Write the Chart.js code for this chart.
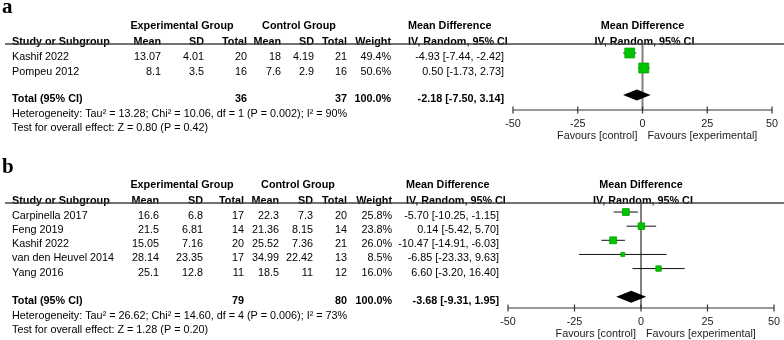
<!DOCTYPE html>
<html>
<head>
<meta charset="utf-8">
<script src="https://cdn.jsdelivr.net/npm/chart.js@4.4.0/dist/chart.umd.min.js"></script>
<style>
  html, body { margin: 0; padding: 0; background: #fff; }
  .panel { position: absolute; left: 0; width: 784px; }
</style>
</head>
<body>
<div class="panel" style="top:0"><canvas id="chart-a" width="784" height="150"></canvas></div>
<div class="panel" style="top:150px"><canvas id="chart-b" width="784" height="190"></canvas></div>
<script>
/* Forest plots a and b */
const TICKS = [-50, -25, 0, 25, 50];

// panel a
const STUDIES_A = ["Kashif 2022", "Pompeu 2012"];
const EXP_MEAN_A = [13.07, 8.1];
const EXP_SD_A = [4.01, 3.5];
const EXP_N_A = [20, 16];
const CTL_MEAN_A = [18, 7.6];
const CTL_SD_A = [4.19, 2.9];
const CTL_N_A = [21, 16];
const WEIGHT_A = [49.4, 50.6];
const MD_A = [-4.93, 0.5];
const LO_A = [-7.44, -1.73];
const HI_A = [-2.42, 2.73];
const TOTAL_N_A = [36, 37];
const POOLED_A = [-2.18, -7.5, 3.14];
const HET_A = "Heterogeneity: Tau² = 13.28; Chi² = 10.06, df = 1 (P = 0.002); I² = 90%";
const Z_A = "Test for overall effect: Z = 0.80 (P = 0.42)";

// panel b
const STUDIES_B = ["Carpinella 2017", "Feng 2019", "Kashif 2022", "van den Heuvel 2014", "Yang 2016"];
const EXP_MEAN_B = [16.6, 21.5, 15.05, 28.14, 25.1];
const EXP_SD_B = [6.8, 6.81, 7.16, 23.35, 12.8];
const EXP_N_B = [17, 14, 20, 17, 11];
const CTL_MEAN_B = [22.3, 21.36, 25.52, 34.99, 18.5];
const CTL_SD_B = [7.3, 8.15, 7.36, 22.42, 11];
const CTL_N_B = [20, 14, 21, 13, 12];
const WEIGHT_B = [25.8, 23.8, 26.0, 8.5, 16.0];
const MD_B = [-5.7, 0.14, -10.47, -6.85, 6.6];
const LO_B = [-10.25, -5.42, -14.91, -23.33, -3.2];
const HI_B = [-1.15, 5.7, -6.03, 9.63, 16.4];
const TOTAL_N_B = [79, 80];
const POOLED_B = [-3.68, -9.31, 1.95];
const HET_B = "Heterogeneity: Tau² = 26.62; Chi² = 14.60, df = 4 (P = 0.006); I² = 73%";
const Z_B = "Test for overall effect: Z = 1.28 (P = 0.20)";

const FONT = "'Liberation Sans', Arial, sans-serif";
const FS = 10.8;

const fmt2 = (v) => v.toFixed(2);
const ciText = (e, l, h) => `${fmt2(e)} [${fmt2(l)}, ${fmt2(h)}]`;

function makePanel(canvasId, p, g) {
  const n = p.studies.length;
  const ciSets = p.studies.map((_, i) => ({
    type: "line",
    data: [{ x: p.lo[i], y: i }, { x: p.hi[i], y: i }],
    borderColor: "#111",
    borderWidth: 1,
    pointRadius: 0,
    order: 1,
  }));

  const forestPlugin = {
    id: "forest-" + canvasId,
    afterDatasetsDraw(chart) {
      const ctx = chart.ctx;
      const xs = chart.scales.x;
      const yc = chart.scales.y.getPixelForValue(g.totalRow);
      ctx.save();
      ctx.fillStyle = "#000";
      ctx.beginPath();
      ctx.moveTo(xs.getPixelForValue(p.pooled[1]), yc);
      ctx.lineTo(xs.getPixelForValue(p.pooled[0]), yc - g.diamondH);
      ctx.lineTo(xs.getPixelForValue(p.pooled[2]), yc);
      ctx.lineTo(xs.getPixelForValue(p.pooled[0]), yc + g.diamondH);
      ctx.closePath();
      ctx.fill();
      ctx.restore();
    },
    afterDraw(chart) {
      const ctx = chart.ctx;
      const area = chart.chartArea;
      const xs = chart.scales.x;
      const ys = chart.scales.y;
      const c = g.cols;

      const put = (txt, x, y, align, bold) => {
        ctx.font = `${bold ? "bold " : ""}${FS}px ${FONT}`;
        ctx.textAlign = align;
        ctx.fillText(txt, x, y);
      };

      ctx.save();
      ctx.fillStyle = "#000";
      ctx.textBaseline = "alphabetic";

      // panel letter
      ctx.font = "bold 21px 'Liberation Serif', 'Times New Roman', serif";
      ctx.textAlign = "left";
      ctx.fillText(p.letter, 2, g.letterY);

      // header rows
      const h1 = area.top - 15;
      const h2 = area.top + 1;
      put("Experimental Group", c.expHead, h1, "center", true);
      put("Control Group", c.ctlHead, h1, "center", true);
      put("Mean Difference", c.mdHead, h1, "left", true);
      put("Mean Difference", (area.left + area.right) / 2, h1, "center", true);
      put("Study or Subgroup", 12, h2, "left", true);
      put("Mean", c.expMean, h2, "right", true);
      put("SD", c.expSD, h2, "right", true);
      put("Total", c.expN, h2, "right", true);
      put("Mean", c.ctlMean, h2, "right", true);
      put("SD", c.ctlSD, h2, "right", true);
      put("Total", c.ctlN, h2, "right", true);
      put("Weight", c.weight, h2, "right", true);
      put("IV, Random, 95% CI", c.mdHead, h2, "left", true);
      put("IV, Random, 95% CI", (area.left + area.right) / 2 + 2, h2, "center", true);

      // header rule
      ctx.strokeStyle = "#444";
      ctx.lineWidth = 1.3;
      ctx.beginPath();
      ctx.moveTo(5, area.top);
      ctx.lineTo(784, area.top);
      ctx.stroke();

      // study rows
      p.studies.forEach((name, i) => {
        const y = ys.getPixelForValue(i) + 7;
        put(name, 12, y, "left", false);
        put(String(p.expMean[i]), c.expMean, y, "right", false);
        put(String(p.expSD[i]), c.expSD, y, "right", false);
        put(String(p.expN[i]), c.expN, y, "right", false);
        put(String(p.ctlMean[i]), c.ctlMean, y, "right", false);
        put(String(p.ctlSD[i]), c.ctlSD, y, "right", false);
        put(String(p.ctlN[i]), c.ctlN, y, "right", false);
        put(p.weight[i].toFixed(1) + "%", c.weight, y, "right", false);
        put(ciText(p.md[i], p.lo[i], p.hi[i]), c.md, y, "right", false);
      });

      // total rows
      const ty = ys.getPixelForValue(g.totalRow);
      put("Total (95% CI)", 12, ty + 7, "left", true);
      put(String(p.totalN[0]), c.expN, ty + 7, "right", true);
      put(String(p.totalN[1]), c.ctlN, ty + 7, "right", true);
      put("100.0%", c.weight, ty + 7, "right", true);
      put(ciText(p.pooled[0], p.pooled[1], p.pooled[2]), c.md, ty + 7, "right", true);
      put(p.het, 12, ty + 22, "left", false);
      put(p.z, 12, ty + 36, "left", false);

      // x axis
      const ax = area.bottom;
      ctx.strokeStyle = "#333";
      ctx.lineWidth = 1.2;
      ctx.beginPath();
      ctx.moveTo(xs.getPixelForValue(TICKS[0]), ax);
      ctx.lineTo(xs.getPixelForValue(TICKS[TICKS.length - 1]), ax);
      TICKS.forEach((t) => {
        const x = xs.getPixelForValue(t);
        ctx.moveTo(x, ax - 3.5);
        ctx.lineTo(x, ax + 3.5);
      });
      ctx.stroke();
      ctx.fillStyle = "#222";
      TICKS.forEach((t) => {
        put(String(t), xs.getPixelForValue(t), ax + 17, "center", false);
      });
      const x0 = xs.getPixelForValue(0);
      put("Favours [control]", x0 - 5, ax + 29, "right", false);
      put("Favours [experimental]", x0 + 5, ax + 29, "left", false);
      ctx.restore();
    },
  };

  return new Chart(document.getElementById(canvasId), {
    type: "scatter",
    data: {
      datasets: [
        {
          type: "scatter",
          data: p.studies.map((_, i) => ({ x: p.md[i], y: i })),
          pointStyle: "rect",
          pointRadius: p.weight.map((w) => (g.sq * Math.sqrt(w)) / Math.SQRT2),
          backgroundColor: "#00c400",
          borderColor: "#00a000",
          borderWidth: 0.8,
          order: 0,
        },
        ...ciSets,
        {
          type: "line",
          data: [{ x: 0, y: g.yMin }, { x: 0, y: g.yMax }],
          borderColor: "#808080",
          borderWidth: 2,
          pointRadius: 0,
          order: 2,
        },
      ],
    },
    options: {
      responsive: false,
      animation: false,
      events: [],
      layout: {
        padding: {
          left: g.left,
          right: 784 - g.right,
          top: g.top,
          bottom: g.height - g.bottom,
        },
      },
      scales: {
        x: { type: "linear", min: -50, max: 50, display: false },
        y: { type: "linear", min: g.yMin, max: g.yMax, reverse: true, display: false },
      },
      plugins: { legend: { display: false }, tooltip: { enabled: false } },
    },
    plugins: [forestPlugin],
  });
}

makePanel(
  "chart-a",
  {
    letter: "a",
    studies: STUDIES_A, expMean: EXP_MEAN_A, expSD: EXP_SD_A, expN: EXP_N_A,
    ctlMean: CTL_MEAN_A, ctlSD: CTL_SD_A, ctlN: CTL_N_A, weight: WEIGHT_A,
    md: MD_A, lo: LO_A, hi: HI_A, totalN: TOTAL_N_A, pooled: POOLED_A, het: HET_A, z: Z_A,
  },
  {
    height: 150, left: 513, right: 772, top: 44, bottom: 110,
    yMin: -0.6, yMax: 3.8, totalRow: 2.8, diamondH: 5.5, sq: 1.4, letterY: 13,
    cols: { expMean: 161, expSD: 204, expN: 247, ctlMean: 281, ctlSD: 314, ctlN: 347,
            weight: 391, md: 504, mdHead: 408, expHead: 182, ctlHead: 299 },
  }
);

makePanel(
  "chart-b",
  {
    letter: "b",
    studies: STUDIES_B, expMean: EXP_MEAN_B, expSD: EXP_SD_B, expN: EXP_N_B,
    ctlMean: CTL_MEAN_B, ctlSD: CTL_SD_B, ctlN: CTL_N_B, weight: WEIGHT_B,
    md: MD_B, lo: LO_B, hi: HI_B, totalN: TOTAL_N_B, pooled: POOLED_B, het: HET_B, z: Z_B,
  },
  {
    height: 190, left: 508, right: 774, top: 53, bottom: 158,
    yMin: -0.64, yMax: 6.79, totalRow: 6, diamondH: 6, sq: 1.35, letterY: 23,
    cols: { expMean: 159, expSD: 203, expN: 244, ctlMean: 279, ctlSD: 313, ctlN: 347,
            weight: 392, md: 499, mdHead: 406, expHead: 182, ctlHead: 298 },
  }
);
</script>
</body>
</html>
